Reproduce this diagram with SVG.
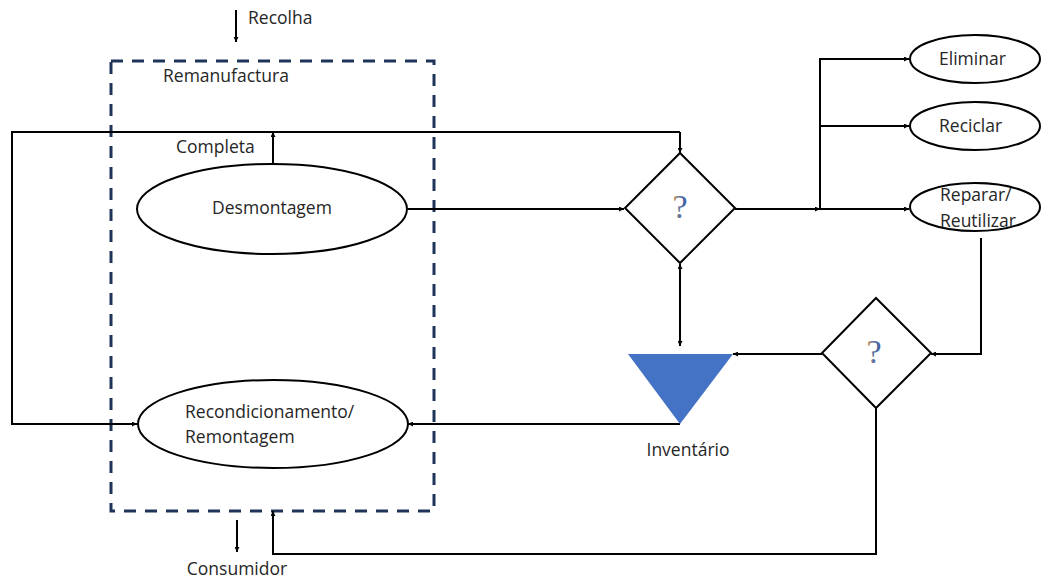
<svg xmlns="http://www.w3.org/2000/svg" width="1041" height="578" viewBox="0 0 1041 578">
<style>
.t{font-family:"Open Sans","Noto Sans",sans-serif;font-size:17.5px;fill:#262626}
.ln{fill:none;stroke:#000;stroke-width:2}
.sh{fill:#fff;stroke:#000;stroke-width:2}
.q{font-family:"Liberation Serif",serif;font-size:34px;fill:url(#qg)}
</style>
<defs>
<marker id="ah" viewBox="0 0 10 10" refX="10" refY="5" markerWidth="6" markerHeight="5" orient="auto-start-reverse" markerUnits="userSpaceOnUse">
<path d="M0,0 L10,5 L0,10 z" fill="#000"/>
</marker>
<linearGradient id="qg" x1="0" y1="0" x2="1" y2="0">
<stop offset="0" stop-color="#d08a3a"/><stop offset="0.5" stop-color="#5a72a8"/><stop offset="1" stop-color="#3b5b9a"/>
</linearGradient>
</defs>
<rect width="1041" height="578" fill="#fff"/>
<g id="remanufactura">
<rect x="111" y="61" width="323" height="450" fill="none" stroke="#1f3458" stroke-width="3" stroke-dasharray="12,9"/>
<text class="t" x="163" y="82">Remanufactura</text>
</g>
<g id="connectors">
<line class="ln" x1="236" y1="10" x2="236" y2="42" marker-end="url(#ah)"/>
<path class="ln" d="M680,132 H12 V424 H137" marker-end="url(#ah)"/>
<path class="ln" d="M680,132 V153" marker-end="url(#ah)"/>
<line class="ln" x1="273" y1="164" x2="273" y2="132" marker-end="url(#ah)"/>
<line class="ln" x1="408" y1="209" x2="624" y2="209" marker-end="url(#ah)"/>
<line class="ln" x1="735" y1="209" x2="820" y2="209" marker-end="url(#ah)"/>
<path class="ln" d="M820,209 V59 H909" marker-end="url(#ah)"/>
<line class="ln" x1="820" y1="126" x2="909" y2="126" marker-end="url(#ah)"/>
<line class="ln" x1="820" y1="209" x2="909" y2="209" marker-end="url(#ah)"/>
<path class="ln" d="M981,238 V354 H931" marker-end="url(#ah)"/>
<line class="ln" x1="822" y1="354" x2="733" y2="354" marker-end="url(#ah)"/>
<line class="ln" x1="680" y1="264" x2="680" y2="346" marker-start="url(#ah)" marker-end="url(#ah)"/>
<path class="ln" d="M680,424 H408" marker-end="url(#ah)"/>
<path class="ln" d="M876,408 V554 H273 V511" marker-end="url(#ah)"/>
<line class="ln" x1="237" y1="520" x2="237" y2="552" marker-end="url(#ah)"/>
</g>
<g id="recolha"><text class="t" x="248" y="24">Recolha</text></g>
<g id="completa"><text class="t" x="176" y="153">Completa</text></g>
<g id="desmontagem">
<ellipse class="sh" cx="272" cy="209" rx="135" ry="45"/>
<text class="t" x="272" y="214" text-anchor="middle">Desmontagem</text>
</g>
<g id="recondicionamento">
<ellipse class="sh" cx="273" cy="424" rx="135" ry="44"/>
<text class="t" x="185" y="418">Recondicionamento/</text>
<text class="t" x="185" y="443">Remontagem</text>
</g>
<g id="decisao1">
<polygon class="sh" points="680,153 735,208 680,263 625,208"/>
<text class="q" x="680" y="218" text-anchor="middle">?</text>
</g>
<g id="decisao2">
<polygon class="sh" points="876,298 931,353 876,408 822,353"/>
<text class="q" x="874" y="363" text-anchor="middle">?</text>
</g>
<g id="inventario">
<polygon points="628,354 733,354 680,424" fill="#4472c4"/>
<text class="t" x="688" y="456" text-anchor="middle">Inventário</text>
</g>
<g id="eliminar">
<ellipse class="sh" cx="975" cy="59" rx="65" ry="24"/>
<text class="t" x="939" y="65">Eliminar</text>
</g>
<g id="reciclar">
<ellipse class="sh" cx="975" cy="126" rx="65" ry="24"/>
<text class="t" x="939" y="132">Reciclar</text>
</g>
<g id="reparar">
<ellipse class="sh" cx="975" cy="207" rx="65" ry="24"/>
<text class="t" x="940" y="201">Reparar/</text>
<text class="t" x="940" y="227">Reutilizar</text>
</g>
<g id="consumidor"><text class="t" x="237" y="575" text-anchor="middle">Consumidor</text></g>
</svg>
